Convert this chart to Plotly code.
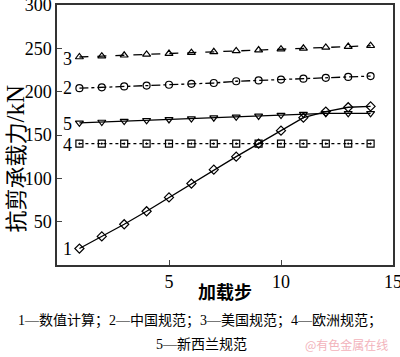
import plotly.graph_objects as go

steps = list(range(1, 15))
s1_numeric = [19, 33, 47, 62, 78, 94, 110, 125, 140, 155, 170, 177, 182, 183]
s2_china = [204, 205, 206, 207, 208, 209, 210, 212, 213, 214, 215, 216, 217, 218]
s3_usa = [240, 241, 242, 243, 244, 245, 246, 247, 248, 249, 250, 251, 252, 253]
s4_europe = [140] * 14
s5_nz = [164, 165, 166, 167, 168, 169, 170, 171, 172, 173, 174, 175, 175, 175]

series = [
    ("1", s1_numeric, "diamond-open", "solid"),
    ("2", s2_china, "circle-open", "dashdot"),
    ("3", s3_usa, "triangle-up-open", "dash"),
    ("4", s4_europe, "square-open-dot", "dot"),
    ("5", s5_nz, "triangle-down-open", "solid"),
]
label_y = {"1": 18, "2": 204, "3": 238, "4": 139, "5": 163}

SERIF = "Liberation Serif, Times New Roman, Noto Sans CJK SC, serif"
CJK = "Liberation Serif, Noto Sans CJK SC, serif"

fig = go.Figure()
for name, ys, sym, dash in series:
    fig.add_trace(go.Scatter(
        x=steps, y=ys, mode="lines+markers", name=name,
        line=dict(color="black", width=1.3, dash=dash),
        marker=dict(symbol=sym, size=7, color="black", line=dict(width=1.2, color="black")),
        showlegend=False, cliponaxis=False,
    ))
    fig.add_annotation(x=0.45, y=label_y[name], text=name, showarrow=False,
                       xanchor="center", yanchor="middle",
                       font=dict(family=SERIF, size=18, color="black"))

fig.add_annotation(x=-0.22, y=-9, text="0", showarrow=False, xanchor="center", yanchor="middle",
                   font=dict(family=SERIF, size=18, color="black"))

fig.update_xaxes(range=[0, 15], tickvals=[5, 10, 15], ticks="inside", ticklen=5,
                 showline=True, linecolor="#333", linewidth=1.5, mirror=True,
                 showgrid=False, zeroline=False, automargin=False,
                 ticklabeloverflow="allow",
                 tickfont=dict(family=SERIF, size=18, color="black"))
fig.update_yaxes(range=[0, 300], tickvals=[50, 100, 150, 200, 250, 300], ticks="inside", ticklen=5,
                 showline=True, linecolor="#333", linewidth=1.5, mirror=True,
                 showgrid=False, zeroline=False, automargin=False,
                 ticklabeloverflow="allow",
                 tickfont=dict(family=SERIF, size=18, color="black"))

# axis titles and caption as paper annotations
fig.add_annotation(xref="paper", yref="paper", x=-0.125, y=0.41,
                   text="抗剪承载力<span style='font-size:25px'>/kN</span>", textangle=-90,
                   showarrow=False, xanchor="center", yanchor="middle",
                   font=dict(family=CJK, size=22, color="black"))
fig.add_annotation(xref="paper", yref="paper", x=0.5, y=-0.108, text="<b>加载步</b>",
                   showarrow=False, xanchor="center", yanchor="middle",
                   font=dict(family=CJK, size=18, color="black"))
fig.add_annotation(xref="paper", yref="paper", x=0.425, y=-0.215,
                   text="1—数值计算；2—中国规范；3—美国规范；4—欧洲规范；",
                   showarrow=False, xanchor="center", yanchor="middle",
                   font=dict(family=CJK, size=14, color="black"))
fig.add_annotation(xref="paper", yref="paper", x=0.43, y=-0.305,
                   text="5—新西兰规范",
                   showarrow=False, xanchor="center", yanchor="middle",
                   font=dict(family=CJK, size=14, color="black"))
fig.add_annotation(xref="paper", yref="paper", x=0.99, y=-0.305,
                   text="@有色金属在线",
                   showarrow=False, xanchor="right", yanchor="middle",
                   font=dict(family="Noto Sans CJK SC", size=12, color="#f2b3bb"))

fig.update_layout(
    width=400, height=357,
    margin=dict(l=57, r=7, t=5, b=92, autoexpand=False),
    plot_bgcolor="white", paper_bgcolor="white",
)

fig.write_html("out.html", config={"displayModeBar": False},
               post_script="document.body.style.margin='0';document.body.style.overflow='hidden';")
